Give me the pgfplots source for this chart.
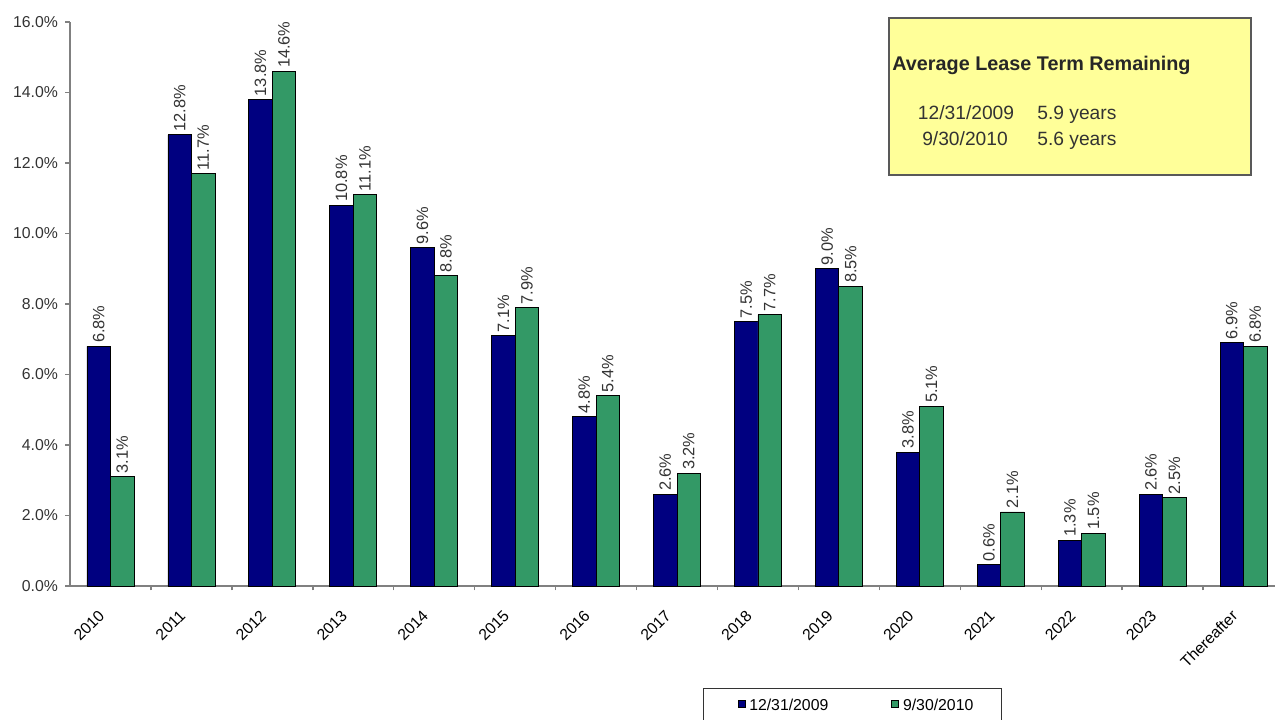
\documentclass[border=0pt]{standalone}
\usepackage{pgfplots}
\pgfplotsset{compat=1.18}
\usepackage{fontspec}
\setmainfont{Liberation Sans}
\definecolor{navybar}{HTML}{000080}
\definecolor{greenbar}{HTML}{339966}
\definecolor{notebg}{HTML}{FFFF99}
\definecolor{axisgray}{HTML}{808080}

\newcommand{\lblfont}{\fontsize{7.9}{9}\selectfont}
\newcommand{\barfont}{\fontsize{8.2}{9}\selectfont}
\newcommand{\notefont}{\fontsize{9.6}{11}\selectfont}

\begin{document}
\begin{tikzpicture}[x=1pt,y=1pt]
\begin{axis}[
  at={(35pt,66.5pt)}, anchor=south west,
  scale only axis, width=607pt, height=282pt,
  xmin=-0.5, xmax=14.5, ymin=0, ymax=16,
  axis x line*=bottom, axis y line*=left,
  x axis line style={-, draw=axisgray, line width=0.8pt},
  y axis line style={-, draw=axisgray, line width=0.8pt},
  tick align=outside, major tick length=2.5pt, minor tick length=2.2pt,
  tick style={draw=axisgray, line width=0.7pt},
  ytick={0,2,...,16},
  yticklabel={\pgfmathprintnumber[fixed,fixed zerofill,precision=1]{\tick}\%},
  yticklabel style={font=\lblfont, text=black!80},
  % category names at the centres, tick marks only between categories
  xtick={0,1,...,14},
  xticklabels={2010,2011,2012,2013,2014,2015,2016,2017,2018,2019,2020,2021,2022,2023,Thereafter},
  major x tick style={draw=none},
  minor xtick={0.5,1.5,...,13.5},
  xticklabel style={font=\lblfont, anchor=east, xshift=-2pt, yshift=-8.6pt, rotate=45},
  /pgf/number format/assume math mode=true,
  ybar=0pt, bar width=11.75pt,
  nodes near coords={\pgfmathprintnumber[fixed,fixed zerofill,precision=1]{\pgfplotspointmeta}\%},
  every node near coord/.append style={rotate=90, anchor=west, font=\barfont, text=black!80, inner sep=1.5pt},
  legend columns=2,
  legend style={at={(axis description cs:0.5214,-0.1809)}, anchor=north west,
    draw=black!80, line width=0.6pt, font=\lblfont, inner xsep=12pt, inner ysep=3pt,
    nodes={text depth=6pt},
    /tikz/every even column/.append style={column sep=24.5pt}},
  sqlegend/.style={legend image code/.code={\path (0pt,0pt);
      \draw[##1,draw=black,line width=0.3pt] (5pt,1.6pt) rectangle (8.5pt,5.1pt);}},
]
% share of leases expiring, as of 12/31/2009
\addplot[fill=navybar, draw=black, line width=0.4pt, sqlegend] coordinates {
  (0,6.8) (1,12.8) (2,13.8) (3,10.8) (4,9.6) (5,7.1) (6,4.8) (7,2.6)
  (8,7.5) (9,9.0) (10,3.8) (11,0.6) (12,1.3) (13,2.6) (14,6.9)};
% share of leases expiring, as of 9/30/2010
\addplot[fill=greenbar, draw=black, line width=0.4pt, sqlegend] coordinates {
  (0,3.1) (1,11.7) (2,14.6) (3,11.1) (4,8.8) (5,7.9) (6,5.4) (7,3.2)
  (8,7.7) (9,8.5) (10,5.1) (11,2.1) (12,1.5) (13,2.5) (14,6.8)};
\legend{12/31/2009, 9/30/2010}
\end{axis}

% note box
\draw[draw=black!65, line width=0.7pt, fill=notebg] (444.5pt,272pt) rectangle (625.5pt,350.5pt);
\node[anchor=base west, inner sep=0pt, font=\bfseries\fontsize{9.9}{11}\selectfont, text=black!85] at (446pt,324pt) {Average Lease Term Remaining};
\node[anchor=base, inner sep=0pt, font=\notefont, text=black!80] at (483pt,299.8pt) {12/31/2009};
\node[anchor=base, inner sep=0pt, font=\notefont, text=black!80] at (482.5pt,286.8pt) {9/30/2010};
\node[anchor=base west, inner sep=0pt, font=\notefont, text=black!80] at (518.5pt,299.8pt) {5.9 years};
\node[anchor=base west, inner sep=0pt, font=\notefont, text=black!80] at (518.5pt,286.8pt) {5.6 years};

\pgfresetboundingbox
\path[use as bounding box] (0pt,0pt) rectangle (637.5pt,359.5pt);
\end{tikzpicture}
\end{document}
